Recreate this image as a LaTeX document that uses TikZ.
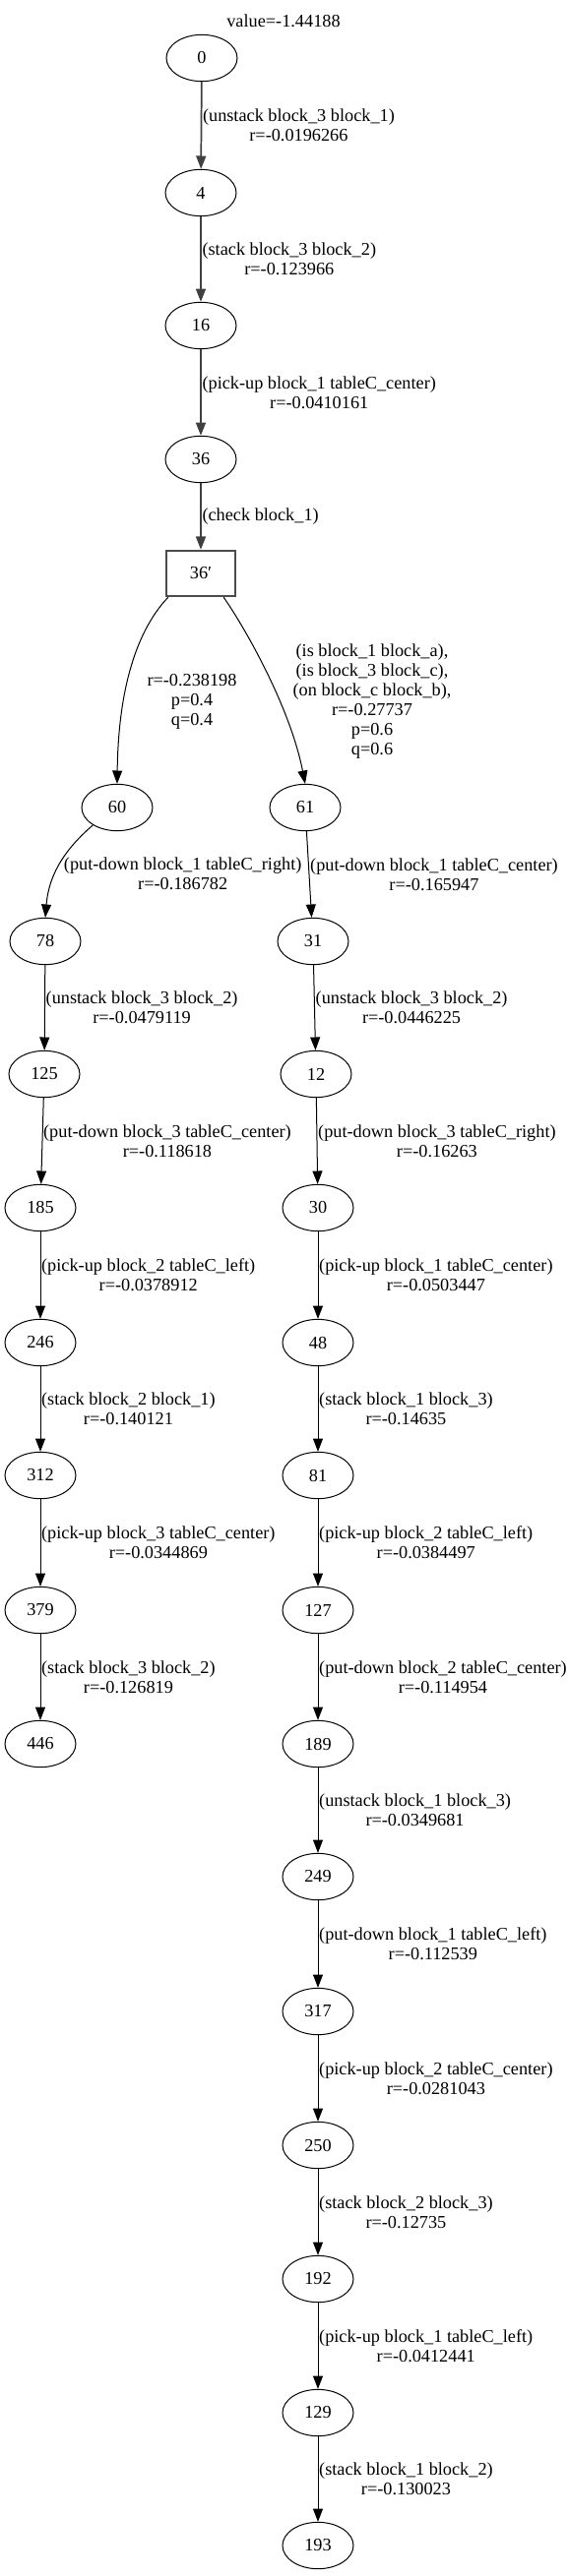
\documentclass[tikz,border=0pt]{standalone}
\usepackage{fontspec}
\setmainfont{Liberation Serif}
\usetikzlibrary{arrows.meta,calc,shapes.geometric}

\begin{document}
\begin{tikzpicture}[
        % Stili generali (coordinate in pixel, font Times)
        x=0.75pt, y=-0.75pt,
        font=\fontsize{13.7}{15}\selectfont,
        state/.style={draw=black, ellipse, line width=0.75pt, minimum width=54pt, minimum height=35.5pt, inner sep=0pt},
        check/.style={draw=black!70, rectangle, line width=1.3pt, minimum width=53pt, minimum height=35pt, inner sep=0pt},
        act/.style={-{Triangle[length=10pt, width=7.5pt]}, line width=0.75pt},
        done/.style={act, draw=black!75, line width=1.3pt},
        lbl/.style={align=center, inner sep=0.5pt, anchor=west}
    ]
    \useasboundingbox (0,0) rectangle (576,2619);

    % 1. Titolo
    \node (title) at (288,21) {value=-1.44188};

    % 2. Catena iniziale (gia eseguita)
    \node[state] (s0) at (205,59) {0};
    \node[state] (s4) at (204,196) {4};
    \node[state] (s16) at (204,331) {16};
    \node[state] (s36) at (204,467) {36};
    \node[check] (c36) at (204,583) {36′};

    \draw[done] (s0) -- (s4) node[lbl, midway] {(unstack block\_3 block\_1)\\r=-0.0196266};
    \draw[done] (s4) -- (s16) node[lbl, midway] {(stack block\_3 block\_2)\\r=-0.123966};
    \draw[done] (s16) -- (s36) node[lbl, midway] {(pick-up block\_1 tableC\_center)\\r=-0.0410161};
    \draw[done] (s36) -- (c36) node[lbl, midway] {(check block\_1)};

    % 3. Ramificazione del check
    \node[state] (s60) at (119,821) {60};
    \node[state] (s61) at (310,821) {61};

    \draw[act] ($(c36.south west)+(3,0)$) .. controls (135,645) and (120,710) .. (s60.north);
    \draw[act] ($(c36.south east)+(-13,0)$) .. controls (250,640) and (295,720) .. (s61.north);
    \node[align=center] (p60) at (195,713) {r=-0.238198\\p=0.4\\q=0.4};
    \node[align=center] (p61) at (378,713) {(is block\_1 block\_a),\\(is block\_3 block\_c),\\(on block\_c block\_b),\\r=-0.27737\\p=0.6\\q=0.6};

    % 4. Ramo sinistro
    \node[state] (s78) at (46,957) {78};
    \node[state] (s125) at (45,1092) {125};
    \node[state] (s185) at (41,1228) {185};
    \node[state] (s246) at (41,1365) {246};
    \node[state] (s312) at (41,1500) {312};
    \node[state] (s379) at (41,1637) {379};
    \node[state] (s446) at (41,1773) {446};

    \draw[act] (s60.216) .. controls (70,860) and (50,885) .. (s78.north);
    \node[lbl] (p78) at (64,888) {(put-down block\_1 tableC\_right)\\r=-0.186782};
    \draw[act] (s78) -- (s125) node[lbl, midway] {(unstack block\_3 block\_2)\\r=-0.0479119};
    \draw[act] (s125) -- (s185) node[lbl, midway] {(put-down block\_3 tableC\_center)\\r=-0.118618};
    \draw[act] (s185) -- (s246) node[lbl, midway] {(pick-up block\_2 tableC\_left)\\r=-0.0378912};
    \draw[act] (s246) -- (s312) node[lbl, midway] {(stack block\_2 block\_1)\\r=-0.140121};
    \draw[act] (s312) -- (s379) node[lbl, midway] {(pick-up block\_3 tableC\_center)\\r=-0.0344869};
    \draw[act] (s379) -- (s446) node[lbl, midway] {(stack block\_3 block\_2)\\r=-0.126819};

    % 5. Ramo destro
    \node[state] (s31) at (318,957) {31};
    \node[state] (s12) at (321,1092) {12};
    \node[state] (s30) at (323,1228) {30};
    \node[state] (s48) at (323,1365) {48};
    \node[state] (s81) at (323,1500) {81};
    \node[state] (s127) at (323,1637) {127};
    \node[state] (s189) at (323,1773) {189};
    \node[state] (s249) at (323,1908) {249};
    \node[state] (s317) at (323,2045) {317};
    \node[state] (s250) at (323,2181) {250};
    \node[state] (s192) at (323,2317) {192};
    \node[state] (s129) at (323,2453) {129};
    \node[state] (s193) at (323,2588) {193};

    \draw[act] (s61) -- (s31) node[lbl, midway] {(put-down block\_1 tableC\_center)\\r=-0.165947};
    \draw[act] (s31) -- (s12) node[lbl, midway] {(unstack block\_3 block\_2)\\r=-0.0446225};
    \draw[act] (s12) -- (s30) node[lbl, midway] {(put-down block\_3 tableC\_right)\\r=-0.16263};
    \draw[act] (s30) -- (s48) node[lbl, midway] {(pick-up block\_1 tableC\_center)\\r=-0.0503447};
    \draw[act] (s48) -- (s81) node[lbl, midway] {(stack block\_1 block\_3)\\r=-0.14635};
    \draw[act] (s81) -- (s127) node[lbl, midway] {(pick-up block\_2 tableC\_left)\\r=-0.0384497};
    \draw[act] (s127) -- (s189) node[lbl, midway] {(put-down block\_2 tableC\_center)\\r=-0.114954};
    \draw[act] (s189) -- (s249) node[lbl, midway] {(unstack block\_1 block\_3)\\r=-0.0349681};
    \draw[act] (s249) -- (s317) node[lbl, midway] {(put-down block\_1 tableC\_left)\\r=-0.112539};
    \draw[act] (s317) -- (s250) node[lbl, midway] {(pick-up block\_2 tableC\_center)\\r=-0.0281043};
    \draw[act] (s250) -- (s192) node[lbl, midway] {(stack block\_2 block\_3)\\r=-0.12735};
    \draw[act] (s192) -- (s129) node[lbl, midway] {(pick-up block\_1 tableC\_left)\\r=-0.0412441};
    \draw[act] (s129) -- (s193) node[lbl, midway] {(stack block\_1 block\_2)\\r=-0.130023};

\end{tikzpicture}
\end{document}
